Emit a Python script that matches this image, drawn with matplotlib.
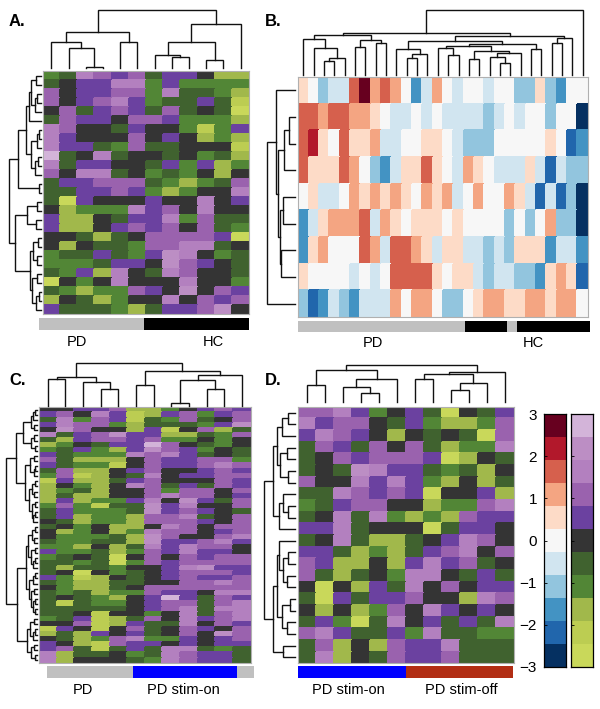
import numpy as np
import matplotlib
matplotlib.use("Agg")
import matplotlib.pyplot as plt
from matplotlib.colors import ListedColormap, BoundaryNorm

plt.rcParams["font.family"] = ["Liberation Sans", "DejaVu Sans"]

# ---------------- colour scales (11 classes spanning -3..3) ----------------
rdbu_colors = ["#053061", "#2166ac", "#4393c3", "#92c5de", "#d1e5f0", "#f7f7f7",
               "#fddbc7", "#f4a582", "#d6604d", "#b2182b", "#67001f"]
gp_colors = ["#c9d85a", "#bccd52", "#a1b84b", "#528636", "#40622f", "#343434",
             "#6b41a0", "#9a62ae", "#b380bf", "#bc8ec4", "#d3b4d9"]
gp_codes = "YyogdkpmlLw"          # class -5 .. +5 of the green/purple scale
cbar_ticks = [-3, -2, -1, 0, 1, 2, 3]

# ---------------- panel A (27 features x 12 subjects) ----------------
A_rows = ["gdlmpmdppkoo", "dkppllgpgggg", "mkppmmglddgo", "mkpmlpgddpdy",
          "kmdpmpdmdkdY", "dmppkmmpgggo", "lmkkdpkkgygp", "lpkkkmkpkogo",
          "lppdgmddkkky", "wdkldkkdkgdo", "ldppkkdpgpog", "mklldkgdgkok",
          "dppmmmdgogdm", "ddppmpgogkkl", "dYpkkkpkklkp", "koggglpmklkk",
          "pookdpplgmdd", "pookpmpmkmdg", "kkdodkmmmmpY", "kokddgmmlldk",
          "gddpdgpLlkgd", "gggdppkLmpkd", "dgpolkdlmkkd", "Ykgklkkklkkg",
          "dgoggmpkLkmp", "okdogkklkmpm", "pdddgodppmLk"]
A_groups = ["PD", "PD", "PD", "PD", "PD", "PD", "HC", "HC", "HC", "HC", "HC", "HC"]
A_col_tree = [[[0, [1, [2, 3, 3], 60], 77], [4, 5, 77], 108],
              [[[6, [7, 8, 33], 40], [9, 10, 25], 77], 11, 133], 175]
A_row_tree = [[[[[[0, 1, 14], [[2, 3, 10], 4, 18], 30], 5, 36],
                [[[6, 7, 6], 8, 12], [[9, 10, 8], 11, 16], 28], 45],
               [12, 13, 6], 67],
              [[[14, 15, 10], [16, 17, 14], 42],
               [[[18, 19, 8], [20, 21, 10], 22],
                [[22, 23, 12], [[24, 25, 6], 26, 14], 26], 32], 77], 94]

# ---------------- panel B (9 features x 28 subjects, RdBu classes) ----------------
B_levels = [
    [1, 0, -2, -1, -1, 3, 5, 2, 3, 2, 0, -3, -1, 2, 0, -1, 0, 0, -1, 0, 0, -2, -2, 1, -2, -3, 0, 0],
    [3, 3, 2, 3, 3, 2, 2, 1, 0, -1, -1, 0, -1, 0, -1, -1, -1, -1, -2, -1, 0, -1, 0, 0, -2, 0, 0, -5],
    [3, 4, 1, 0, 3, 1, 1, 2, -1, -1, 0, 0, 1, 1, 0, -1, -2, -2, -2, 0, 0, 0, 0, 0, 1, 0, -4, -3],
    [3, 1, 1, 1, 3, 2, 0, -2, -3, -1, 1, 1, 3, 1, 0, -1, 2, 1, 0, -1, -1, -1, 1, -1, -4, -1, -2, -2],
    [0, 1, -1, -1, 0, 2, 1, 2, 1, 2, 1, 0, 2, 1, 2, -1, 0, 2, 0, 0, 2, 1, -1, -4, -1, -4, -2, -5],
    [-3, -1, 1, 2, 2, 2, 3, -1, 2, 1, 0, 1, 1, 1, 0, 1, 0, 0, 0, 0, -2, 0, -2, 0, 2, -2, -2, -5],
    [-3, 1, 2, 0, 0, 0, 3, 2, -1, 3, 3, 2, 1, -1, 1, 1, -1, -1, -2, -1, -2, 1, 1, 1, -3, -1, -1, -3],
    [1, 0, 0, 0, 0, -1, 0, -1, 0, 3, 3, 3, 3, 1, 0, 1, 1, -1, -2, -1, -1, -2, -2, -3, 1, 2, 1, -4],
    [-2, -4, -3, -1, -2, -3, -1, -1, -1, 2, 0, 2, 2, 0, -2, -2, 0, 1, 2, 2, 1, 1, 2, 2, 1, 2, 2, 0],
]
B_groups = ["PD"] * 16 + ["HC"] * 4 + ["PD"] + ["HC"] * 7
B_col_tree = [[[[0, [1, [[2, 3, 14], 4, 17.3], 27.3], 35.7],
                [[5, 6, 28.3], [7, 8, 32.3], 35], 40.5],
               [[[9, [[10, 11, 16.7], 12, 20.7], 25.7],
                 [[[13, [14, 15, 20], 26.7],
                   [[16, 17, 15.7], [[18, [19, 20, 12.3], 17.7], 21, 21.7], 24.3], 29],
                  [22, 23, 25.7], 31], 34.3],
                [[24, 25, 32.3], 26, 37], 39], 42],
              27, 65]
B_row_tree = [[0, [[[1, 2, 6], 3, 10.7], [[4, 5, 11.7], [6, 7, 14], 15], 16.7], 19.3], 8, 28.3]

# ---------------- panel C (50 features x 12 subjects) ----------------
C_rows = ["kkppmoogkpmp", "pmklpyopmgpm", "dlgmpydgmdkm", "plmmgodddgpL",
          "kLmkkopykmod", "ldpmLppoodgm", "dopmmpmggkgk", "ogkdppwmkdgk",
          "gdpgopLmpgkd", "pdggglmlpdkd", "mdoookmppmmg", "pdggykmppmlm",
          "dmookpmkkpmp", "gmyokdlkppmm", "ypoodpmkkkmp", "okgoklmdpdmp",
          "ogdokkmgmmkm", "odookkmlmmkp", "opoggplkLpdm", "gmgyddLplkkm",
          "dpgggdLpmpkd", "dpoggommldkm", "kdoggommmpkm", "dkgkooklmkmm",
          "kogkoglmmkpm", "kgggdoLmkkml", "dggddoLppmlp", "ggokodlplmmk",
          "pggdogmplppk", "gdkdYkmkmpmm", "ddgdYgmpmmmm", "doddgkkplLpp",
          "dkYkgdkpmmmp", "pgyokdkpmppm", "dgooddkkmmlm", "kgoodkmmmmmm",
          "dgdoggmppkll", "dkdgokpwpdmp", "dydggkpmmdml", "dddddkpmldll",
          "ddkykkgkldml", "gdpyodmklpml", "kkmyopddlkmp", "ypkykmdkmpkm",
          "odopkpdkmkLm", "kdogmlggpkpm", "pkoymppkpkpp", "pmdydpdlldgd",
          "loddkgdlmppd", "lokkkdglmppd"]
C_groups = ["PD"] * 5 + ["PD stim-on"] * 6 + ["PD"]
C_col_tree = [[[0, 1, 80], [2, [3, 4, 50], 71], 88],
              [[5, 6, 63], [[[7, 8, 8], [9, 10, 50], 78], 11, 93], 106], 130]
C_top_half = [[[[[0, 1, 6], 2, 10], [3, 4, 7], 18], [[5, 6, 8], [7, 8, 6], 16], 40],
              [[[9, 10, 7], [[11, 12, 5], 13, 9], 20],
               [[[14, 15, 6], [16, 17, 8], 14], [[18, 19, 5], [[20, 21, 6], 22, 10], 15], 24], 35], 62]
C_bottom_half = [[[[[23, 24, 6], [25, 26, 7], 15], [[27, 28, 5], [[29, 30, 6], 31, 11], 16], 26],
                  [[[32, 33, 6], 34, 10], [[35, 36, 7], [[37, 38, 5], [39, 40, 6], 12], 17], 22], 32],
                 [[[41, 42, 7], [[43, 44, 6], 45, 11], 19], [[46, 47, 8], [48, 49, 6], 17], 30], 60]
C_row_tree = [C_top_half, C_bottom_half, 92]

# ---------------- panel D (22 features x 12 subjects) ----------------
D_rows = ["mmlpgkpdYkdp", "lpmmkdpgoogm", "plmpkokdkdYm", "dmpdmkmdoggl",
          "dkmpmmmpYokd", "dkdLlppdgdok", "mkklplpgokod", "ddlmpmpYkkpo",
          "gdpmmkkoggml", "dkldlgogompp", "ppldkkkYdppk", "dkldoodkplmk",
          "ppdogodpmlkm", "mpookoplpmdk", "mdodkgllkdpd", "kYkopdlkmkpp",
          "dYpdppmkkolm", "kokogmklpkpk", "dpgYdlkpdpdl", "mlpddpglddgg",
          "dmokompplddd", "dlokdmppmddd"]
D_groups = ["PD stim-on"] * 6 + ["PD stim-off"] * 6
D_col_tree = [[[0, 1, 50], [[2, [3, 4, 25], 45], 5, 67], 95],
              [[[6, 7, 67], [[8, 9, 35], 10, 55], 83], 11, 90], 110]
D_row_tree = [[[[[0, 1, 20], 2, 40], [[3, 4, 25], [5, 6, 20], 45], 55], [[7, [8, 9, 20], 35], 10, 47], 65],
              [[[11, [[12, 13, 20], [14, 15, 25], 37], 47], [[16, 17, 15], [18, 19, 25], 40], 55],
               [20, 21, 35], 67], 93]

group_colors = {"PD": "#c0c0c0", "HC": "#000000",
                "PD stim-on": "#0000ff", "PD stim-off": "#b22e14"}

# ---------------- helpers ----------------
W, H = 600, 709
fig = plt.figure(figsize=(W / 100, H / 100), dpi=100)
fig.patch.set_facecolor("white")


def px_axes(x0, y0, x1, y1):
    return fig.add_axes([x0 / W, 1 - y1 / H, (x1 - x0) / W, (y1 - y0) / H])


def decode(rows):
    return np.array([[gp_codes.index(c) - 5 for c in r] for r in rows], float) * 6 / 11


def draw_heat(ax, Z, colors):
    cmap = ListedColormap(colors)
    norm = BoundaryNorm(np.linspace(-3, 3, 12), 11)
    nr, nc = Z.shape
    ax.pcolormesh(np.arange(nc + 1), np.arange(nr + 1), Z, cmap=cmap, norm=norm,
                  edgecolors="face", linewidth=0.3)
    ax.set_xlim(0, nc)
    ax.set_ylim(nr, 0)
    ax.set_xticks([])
    ax.set_yticks([])
    for s in ax.spines.values():
        s.set_color("#b0b0b0")
        s.set_linewidth(0.8)


def tree_segments(node):
    if isinstance(node, int):
        return node + 0.5, 0.0, []
    l, r, h = node
    xl, hl, sl = tree_segments(l)
    xr, hr, sr = tree_segments(r)
    return (xl + xr) / 2, h, sl + sr + [([xl, xl, xr, xr], [hl, h, h, hr])]


def draw_top(ax, tree, n):
    _, top, segs = tree_segments(tree)
    for xs, hs in segs:
        ax.plot(xs, hs, color="#111111", lw=1.0, clip_on=False, solid_joinstyle="miter")
    ax.set_xlim(0, n)
    ax.set_ylim(0, top)
    ax.axis("off")


def draw_left(ax, tree, n):
    _, top, segs = tree_segments(tree)
    for xs, hs in segs:
        ax.plot(hs, xs, color="#111111", lw=1.0, clip_on=False, solid_joinstyle="miter")
    ax.set_ylim(n, 0)
    ax.set_xlim(top, 0)
    ax.axis("off")


def draw_bar(ax, groups):
    for i, g in enumerate(groups):
        ax.bar(i, 1, width=1.0, align="edge", color=group_colors[g], linewidth=0)
    ax.set_xlim(0, len(groups))
    ax.set_ylim(0, 1)
    ax.axis("off")


def draw_cbar(ax, colors, labels):
    edges = np.linspace(-3, 3, 12)
    mids = ((edges[:-1] + edges[1:]) / 2).reshape(-1, 1)
    ax.pcolormesh([0, 1], edges, mids, cmap=ListedColormap(colors),
                  norm=BoundaryNorm(edges, 11))
    ax.set_xlim(0, 1)
    ax.set_ylim(-3, 3)
    ax.set_xticks([])
    ax.set_yticks(cbar_ticks)
    ax.tick_params(axis="y", direction="in", length=2.5, width=0.6, pad=5,
                   labelsize=11, labelleft=labels)
    for s in ax.spines.values():
        s.set_linewidth(0.9)
        s.set_color("black")


# ---------------- panel A ----------------
A = decode(A_rows)
draw_heat(px_axes(42.7, 71, 249.3, 314), A, gp_colors)
draw_top(px_axes(42.7, 10, 249.3, 68), A_col_tree, A.shape[1])
draw_left(px_axes(9.3, 71, 40.7, 314), A_row_tree, A.shape[0])
draw_bar(px_axes(39.3, 318.3, 249.3, 330), A_groups)

# ---------------- panel B ----------------
B = np.array(B_levels, float) * 6 / 11
draw_heat(px_axes(298.3, 77, 587.7, 317), B, rdbu_colors)
draw_top(px_axes(298.3, 10, 587.7, 75), B_col_tree, B.shape[1])
draw_left(px_axes(266.7, 77, 295, 317), B_row_tree, B.shape[0])
draw_bar(px_axes(298.3, 320.7, 590, 332.3), B_groups)

# ---------------- panel C ----------------
C = decode(C_rows)
draw_heat(px_axes(39, 407.3, 250.7, 662.7), C, gp_colors)
draw_top(px_axes(39, 362.7, 250.7, 406), C_col_tree, C.shape[1])
draw_left(px_axes(6, 407.3, 36.7, 662.7), C_row_tree, C.shape[0])
draw_bar(px_axes(46.7, 666, 254, 678.3), C_groups)

# ---------------- panel D ----------------
D = decode(D_rows)
draw_heat(px_axes(297.7, 406.7, 514, 663.3), D, gp_colors)
draw_top(px_axes(297.7, 365, 514, 401.7), D_col_tree, D.shape[1])
draw_left(px_axes(264, 406.7, 295, 663.3), D_row_tree, D.shape[0])
draw_bar(px_axes(298.3, 666, 513.3, 678.3), D_groups)

# ---------------- colour bars ----------------
draw_cbar(px_axes(544, 414.3, 565.7, 666.7), rdbu_colors, True)
draw_cbar(px_axes(571, 414.3, 593.3, 666.7), gp_colors, False)

# ---------------- texts ----------------
panel_labels = [("A.", 9, 21), ("B.", 265, 21), ("C.", 9, 380), ("D.", 265, 380)]
for t, x, y in panel_labels:
    fig.text(x / W, 1 - y / H, t, fontsize=12, fontweight="bold", ha="left", va="center")

group_labels = [("PD", 76.7, 341.5), ("HC", 213, 341.5),
                ("PD", 373, 343), ("HC", 533, 343),
                ("PD", 83, 690.5), ("PD stim-on", 183, 690.5),
                ("PD stim-on", 348.3, 690.5), ("PD stim-off", 461.7, 690.5)]
for t, x, y in group_labels:
    fig.text(x / W, 1 - y / H, t, fontsize=10.5, ha="center", va="center")

fig.savefig("out.png", dpi=100, facecolor="white")
